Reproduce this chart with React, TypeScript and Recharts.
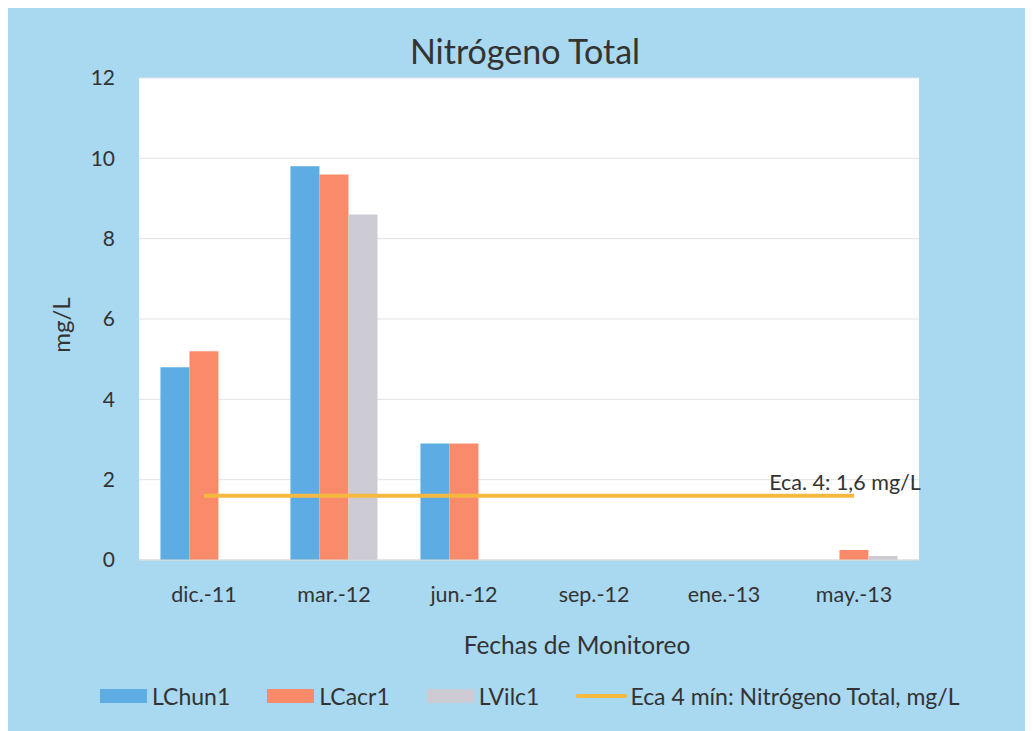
import React from 'react';
import {
  ComposedChart,
  Bar,
  Line,
  XAxis,
  YAxis,
  CartesianGrid,
  LabelList,
  Customized,
} from 'recharts';

// ---- data ----
const categories = ['dic.-11', 'mar.-12', 'jun.-12', 'sep.-12', 'ene.-13', 'may.-13'];
const lchun1: (number | null)[] = [4.8, 9.8, 2.9, null, null, null];
const lcacr1: (number | null)[] = [5.2, 9.6, 2.9, null, null, 0.25];
const lvilc1: (number | null)[] = [null, 8.6, null, null, null, 0.1];
const eca4: number[] = [1.6, 1.6, 1.6, 1.6, 1.6, 1.6];
const yTicks = [0, 2, 4, 6, 8, 10, 12];
const seriesNames = ['LChun1', 'LCacr1', 'LVilc1', 'Eca 4 mín: Nitrógeno Total, mg/L'];
const titleText = 'Nitrógeno Total';
const yTitle = 'mg/L';
const xTitle = 'Fechas de Monitoreo';
const ecaLabel = 'Eca. 4: 1,6 mg/L';

const colors = ['#5DADE4', '#F98B6B', '#CCCAD3', '#F6B940'];
const BG = '#A9D8F1';
const TEXT = '#333333';
const FONT = 'Lato, "Open Sans", sans-serif';

const data = categories.map((c, i) => ({
  cat: c,
  lchun1: lchun1[i],
  lcacr1: lcacr1[i],
  lvilc1: lvilc1[i],
  eca4: eca4[i],
}));

const Titles = () => (
  <g fontFamily={FONT} fill={TEXT}>
    <text x={517} y={56} textAnchor="middle" fontSize={34}>
      {titleText}
    </text>
    <text
      x={52}
      y={317}
      textAnchor="middle"
      dominantBaseline="central"
      fontSize={24}
      transform="rotate(-90 52 317)"
    >
      {yTitle}
    </text>
    <text x={569} y={646} textAnchor="middle" fontSize={24.5}>
      {xTitle}
    </text>
  </g>
);

const EcaLabel = (props: any) => {
  const { x, y, index } = props;
  if (index !== categories.length - 1) return null;
  return (
    <text
      x={x - 9}
      y={y - 6}
      textAnchor="middle"
      fontSize={21.5}
      fontFamily={FONT}
      fill={TEXT}
    >
      {ecaLabel}
    </text>
  );
};

const LegendBox = () => (
  <div
    style={{
      position: 'absolute',
      left: 92,
      top: 674,
      display: 'flex',
      alignItems: 'center',
      fontFamily: FONT,
      fontSize: 23,
      color: TEXT,
      whiteSpace: 'nowrap',
    }}
  >
    {seriesNames.map((n, i) => (
      <div
        key={n}
        style={{ display: 'flex', alignItems: 'center', marginRight: i < 3 ? 37 : 0 }}
      >
        {i < 3 ? (
          <div style={{ width: 47, height: 14, background: colors[i], marginRight: 5 }} />
        ) : (
          <div style={{ width: 51, height: 4, background: colors[i], marginRight: 3, borderRadius: 2 }} />
        )}
        <span>{n}</span>
      </div>
    ))}
  </div>
);

export default function App() {
  return (
    <>
      <style>{'body{overflow:hidden;}'}</style>
      <div style={{ position: 'relative', width: 1025, height: 723, background: BG }}>
        <ComposedChart
          width={1025}
          height={723}
          data={data}
          margin={{ top: 70, right: 114, bottom: 71, left: 71 }}
          barCategoryGap="16.5%"
          barGap={0}
        >
          <CartesianGrid fill="#ffffff" stroke="#e3e3e3" vertical={false} />
          <XAxis
            dataKey="cat"
            height={100}
            axisLine={{ stroke: '#d9d9d9' }}
            tickLine={false}
            tickMargin={21}
            tick={{ fontSize: 21.5, fill: TEXT, fontFamily: FONT }}
          />
          <YAxis
            domain={[0, 12]}
            ticks={yTicks}
            width={60}
            axisLine={false}
            tickLine={false}
            tickMargin={18}
            tick={{ fontSize: 21, fill: TEXT, fontFamily: FONT }}
          />
          <Bar dataKey="lchun1" name={seriesNames[0]} fill={colors[0]} isAnimationActive={false} />
          <Bar dataKey="lcacr1" name={seriesNames[1]} fill={colors[1]} isAnimationActive={false} />
          <Bar dataKey="lvilc1" name={seriesNames[2]} fill={colors[2]} isAnimationActive={false} />
          <Line
            dataKey="eca4"
            name={seriesNames[3]}
            stroke={colors[3]}
            strokeWidth={4}
            dot={false}
            type="linear"
            isAnimationActive={false}
          >
            <LabelList dataKey="eca4" content={EcaLabel} />
          </Line>
          <Customized component={Titles} />
        </ComposedChart>
        <LegendBox />
      </div>
    </>
  );
}
